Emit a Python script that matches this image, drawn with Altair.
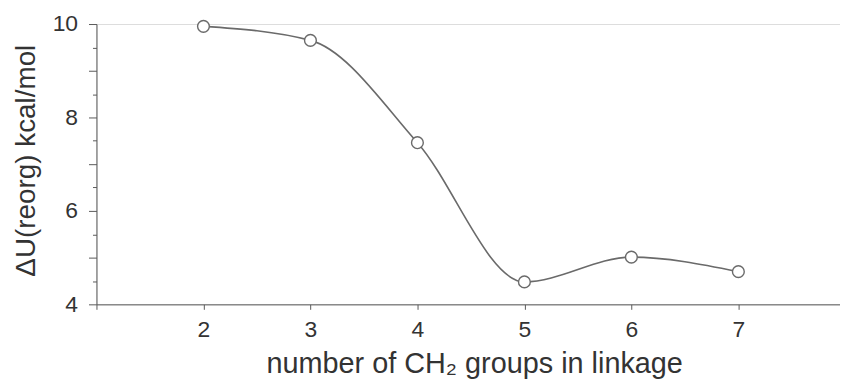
import altair as alt
import pandas as pd

n_ch2 = [2, 3, 4, 5, 6, 7]
du_reorg = [9.95, 9.65, 7.46, 4.48, 5.01, 4.70]

major_y = [4, 5, 6, 7, 8, 9, 10]
minor_y = [4.5, 5.5, 6.5, 7.5, 8.5, 9.5]
x_ticks = [1, 2, 3, 4, 5, 6, 7]

df = pd.DataFrame({"n": n_ch2, "u": du_reorg})

FONT = "Liberation Sans"
AXC = "#5a5a5a"
TXT = "#333333"

xs = alt.Scale(domain=[1, 7.95], nice=False, zero=False)
ys = alt.Scale(domain=[4, 10], nice=False, zero=False)

x_axis = alt.Axis(
    values=x_ticks, labelExpr="datum.value == 1 ? '' : datum.label",
    title="number of CH₂ groups in linkage", grid=False, orient="bottom",
    tickSize=5, tickColor=AXC, domainColor=AXC, tickWidth=1, domainWidth=1,
    labelFont=FONT, labelFontSize=23, labelColor=TXT, labelPadding=9,
    titleFont=FONT, titleFontSize=29, titleFontWeight="normal", titleColor=TXT,
    titleX=380, titleY=69, titleBaseline="alphabetic",
)
y_axis = alt.Axis(
    values=major_y, labelExpr="datum.value % 2 == 0 ? datum.label : ''",
    title="ΔU(reorg) kcal/mol", grid=False, orient="left",
    tickSize=8, tickColor=AXC, domainColor=AXC, tickWidth=1, domainWidth=1,
    labelFont=FONT, labelFontSize=23, labelColor=TXT, labelPadding=11,
    titleFont=FONT, titleFontSize=28, titleFontWeight="normal", titleColor=TXT,
    titleX=-70, titleY=137, titleBaseline="middle", titleAngle=270,
)
y_minor = alt.Axis(
    values=minor_y, labels=False, title=None, grid=False, orient="left",
    domain=False, tickSize=4, tickColor=AXC, tickWidth=1,
)

base = alt.Chart(df)

line = base.mark_line(interpolate="monotone", color="#6a6a6a", strokeWidth=1.6).encode(
    x=alt.X("n:Q", scale=xs, axis=x_axis),
    y=alt.Y("u:Q", scale=ys, axis=y_axis),
)
pts = base.mark_point(
    shape="circle", filled=True, fill="white", stroke="#6a6a6a",
    strokeWidth=1.4, size=140, opacity=1,
).encode(
    x=alt.X("n:Q", scale=xs, axis=None),
    y=alt.Y("u:Q", scale=ys, axis=None),
)
minor = base.mark_point(opacity=0).encode(
    x=alt.X("n:Q", scale=xs, axis=None),
    y=alt.Y("u:Q", scale=ys, axis=y_minor),
)

chart = (
    alt.layer(line, pts, minor)
    .resolve_axis(y="independent", x="independent")
    .properties(
        width=748, height=282,
        padding={"left": 89, "top": 15, "right": 0, "bottom": 76},
        autosize=alt.AutoSizeParams(type="none"),
    )
    .configure_view(stroke=None)
    .configure_axis(grid=False)
    .configure(background="white")
)

chart.save("out.html", embed_options={"renderer": "svg", "actions": False})
